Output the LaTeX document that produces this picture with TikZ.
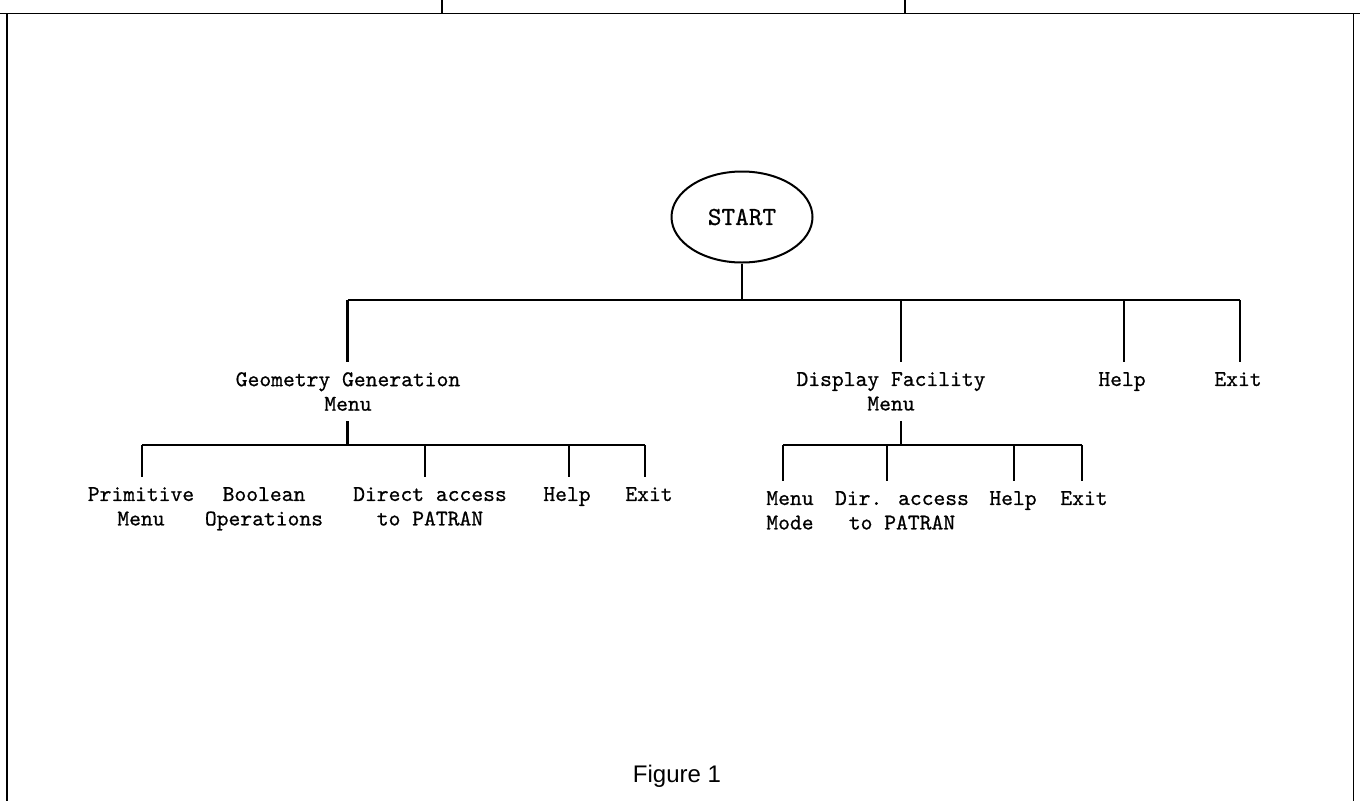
\documentclass[tikz,border=0pt]{standalone}
\usepackage{fontspec}
\newfontfamily\capfont{Liberation Sans}
\newfontfamily\typefont[FakeBold=0.7]{lmmono10-regular.otf}
\usetikzlibrary{shapes.geometric}

\begin{document}
\begin{tikzpicture}[x=1pt,y=-1pt,
  frame/.style={line width=1.4pt},
  tree/.style={line width=2.8pt},
  item/.style={font=\fontsize{22.5}{24.5}\selectfont\typefont,align=center,inner xsep=2pt,inner ysep=10pt,anchor=north}]
\useasboundingbox (0,0) rectangle (1360,801);

\draw[frame] (0,13.5) -- (1360,13.5);
\draw[frame] (7,13.5) -- (7,801);
\draw[frame] (1353.5,13.5) -- (1353.5,801);
\draw[frame] (442,0) -- (442,13.5);
\draw[frame] (905,0) -- (905,13.5);

\node[ellipse,draw,line width=2pt,minimum width=141,minimum height=91,inner sep=0pt,font=\fontsize{26}{28}\selectfont\typefont] (start) at (742,217) {START};

\node[item] (geo) at (348,362) {Geometry Generation\\Menu};
\node[item] (disp) at (891,362) {Display Facility\\Menu};
\node[item] (help) at (1122,362) {Help};
\node[item] (exit) at (1238,362) {Exit};

\node[item] (prim) at (141,477) {Primitive\\Menu};
\node[item] (bool) at (264,477) {Boolean\\Operations};
\node[item] (dir) at (430,477) {Direct access\\to PATRAN};
\node[item] (ghelp) at (567,477) {Help};
\node[item] (gexit) at (649,477) {Exit};

\node[item] (mode) at (790,481) {Menu\\Mode};
\node[item] (pat) at (902,481) {Dir. access\\to PATRAN};
\node[item] (dhelp) at (1013,481) {Help};
\node[item] (dexit) at (1084,481) {Exit};

\node[font=\capfont\fontsize{24}{28}\selectfont] (fig) at (677,776) {Figure 1};

\coordinate (top) at (742,300);
\coordinate (g1) at (347.5,300);
\coordinate (d1) at (901,300);
\coordinate (h1) at (1124,300);
\coordinate (e1) at (1240,300);

\draw[tree] (start.south) -- (top);
\draw[tree] (g1) -- (e1);
\draw[tree] (g1) -- (g1 |- geo.north);
\draw[tree] (d1) -- (d1 |- disp.north);
\draw[tree] (h1) -- (h1 |- help.north);
\draw[tree] (e1) -- (e1 |- exit.north);

\coordinate (g2) at (347.5,445);
\coordinate (p2) at (142,445);
\coordinate (a2) at (425,445);
\coordinate (h2) at (569,445);
\coordinate (x2) at (645,445);

\draw[tree] (geo.south -| g2) -- (g2);
\draw[tree] (p2) -- (x2);
\draw[tree] (p2) -- (p2 |- prim.north);
\draw[tree] (a2) -- (a2 |- dir.north);
\draw[tree] (h2) -- (h2 |- ghelp.north);
\draw[tree] (x2) -- (x2 |- gexit.north);

\coordinate (d2) at (901,445);
\coordinate (m3) at (783,445);
\coordinate (a3) at (887,445);
\coordinate (h3) at (1014,445);
\coordinate (x3) at (1082,445);

\draw[tree] (disp.south -| d2) -- (d2);
\draw[tree] (m3) -- (x3);
\draw[tree] (m3) -- (m3 |- mode.north);
\draw[tree] (a3) -- (a3 |- pat.north);
\draw[tree] (h3) -- (h3 |- dhelp.north);
\draw[tree] (x3) -- (x3 |- dexit.north);
\end{tikzpicture}
\end{document}
